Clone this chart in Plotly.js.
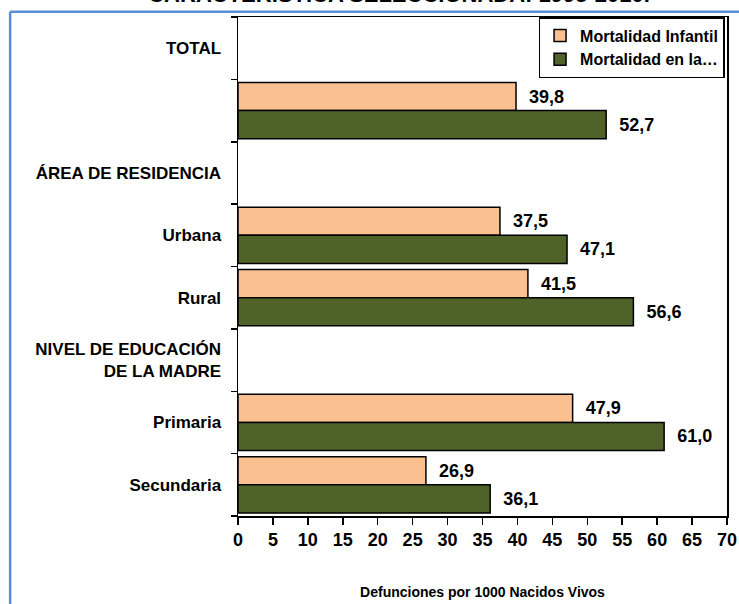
<!DOCTYPE html>
<html><head><meta charset="utf-8">
<script src="https://cdn.plot.ly/plotly-3.0.1.min.js"></script>
<style>html,body{margin:0;padding:0;background:#fff;}#chart{width:739px;height:604px;}</style>
</head><body><div id="chart"></div>
<script>
const categories = ["TOTAL", "Total", "ÁREA DE RESIDENCIA", "Urbana", "Rural", "NIVEL DE EDUCACIÓN<br>DE LA MADRE", "Primaria", "Secundaria"];
const tickLabels = ["TOTAL", "", "ÁREA DE RESIDENCIA", "Urbana", "Rural", "NIVEL DE EDUCACIÓN<br>DE LA MADRE", "Primaria", "Secundaria"];
const infantil = [null, 39.8, null, 37.5, 41.5, null, 47.9, 26.9];
const enLaNinez = [null, 52.7, null, 47.1, 56.6, null, 61.0, 36.1];
const seriesNames = ["Mortalidad Infantil", "Mortalidad en la…"];
const xTicks = [0, 5, 10, 15, 20, 25, 30, 35, 40, 45, 50, 55, 60, 65, 70];

const FONT = "Liberation Sans Narrow, Arial Narrow, Liberation Sans, Arial, sans-serif";
const labelFont = {family: FONT, size: 18, color: "#000", weight: "bold"};

function barTrace(vals, name, color) {
  return {
    type: "bar", orientation: "h", name: name,
    y: categories, x: vals,
    marker: {color: color, line: {color: "#000", width: 1.5}},
    text: vals.map(v => v == null ? "" : v.toFixed(1).replace(".", ",")),
    texttemplate: "\u00a0\u00a0%{text}",
    textposition: "outside", cliponaxis: false,
    textfont: labelFont,
    hoverinfo: "skip"
  };
}

const data = [
  barTrace(infantil, seriesNames[0], "#FAC090"),
  barTrace(enLaNinez, seriesNames[1], "#4F6228")
];

const layout = {
  width: 739, height: 604,
  margin: {l: 238, r: 12, t: 17, b: 88},
  paper_bgcolor: "#fff", plot_bgcolor: "#fff",
  barmode: "group", bargap: 0.1, bargroupgap: 0,
  showlegend: true,
  title: {
    text: "CARACTERÍSTICA SELECCIONADA: 1995-2010.",
    x: 0.54, xanchor: "center", y: 0.996, yanchor: "bottom",
    font: {family: "Liberation Sans, Arial, sans-serif", size: 22, color: "#000", weight: "bold"}
  },
  legend: {
    x: 0.995, xanchor: "right", y: 1, yanchor: "top",
    bgcolor: "#fff", bordercolor: "#000", borderwidth: 1.5,
    font: {family: FONT, size: 16, color: "#000", weight: "bold"},
    tracegroupgap: 0, itemwidth: 30
  },
  xaxis: {
    range: [0, 70], tickvals: xTicks, ticktext: xTicks.map(String),
    showgrid: false, zeroline: false,
    showline: true, linecolor: "#000", linewidth: 1.5, mirror: true,
    ticks: "outside", ticklen: 7, tickcolor: "#000", tickwidth: 1.5,
    tickfont: labelFont,
    title: {text: "Defunciones por 1000 Nacidos Vivos", standoff: 38,
      font: {family: FONT, size: 14, color: "#000", weight: "bold"}}
  },
  yaxis: {
    type: "category", autorange: "reversed",
    tickvals: categories, ticktext: tickLabels,
    tickson: "boundaries",
    showgrid: false, zeroline: false,
    showline: true, linecolor: "#000", linewidth: 1.5, mirror: true,
    ticks: "outside", ticklen: 6, tickcolor: "#000", tickwidth: 1.5,
    ticklabelstandoff: 12,
    tickfont: {family: FONT, size: 17, color: "#000", weight: "bold"}
  },
  shapes: [
    {type: "line", xref: "paper", yref: "paper", x0: -0.466, x1: 1.03, y0: 1.0105, y1: 1.0105,
     line: {color: "#5B8ED6", width: 2.5}},
    {type: "line", xref: "paper", yref: "paper", x0: -0.466, x1: -0.466, y0: 1.0105, y1: -0.2,
     line: {color: "#5B8ED6", width: 2.5}}
  ]
};

Plotly.newPlot("chart", data, layout, {staticPlot: true, displayModeBar: false});
</script></body></html>
